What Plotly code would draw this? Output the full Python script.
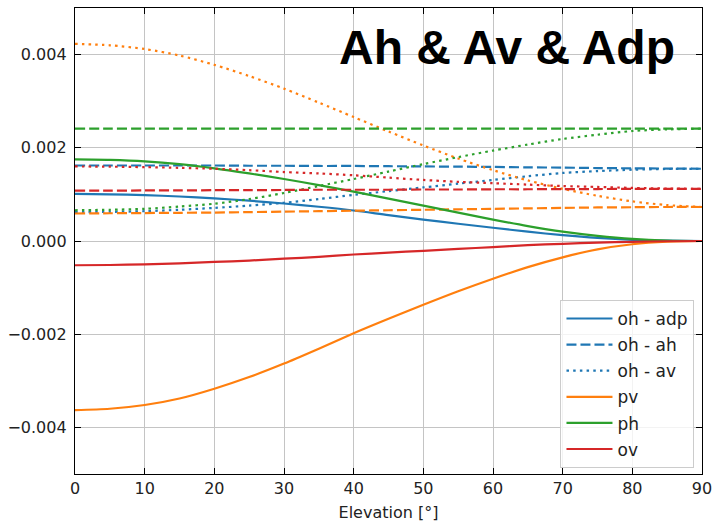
import plotly.graph_objects as go

elevation = [0, 5, 10, 15, 20, 25, 30, 35, 40, 45, 50, 55, 60, 65, 70, 75, 80, 85, 90]

oh_adp = [0.00101, 0.00100, 0.000985, 0.000955, 0.000915, 0.000865, 0.000805, 0.000735, 0.000655, 0.000555,
          0.00046, 0.00037, 0.000285, 0.00020, 0.000125, 0.000065, 0.000025, 0.000006, 0.0]
oh_ah = [0.00162, 0.00162, 0.00162, 0.00162, 0.00162, 0.001615, 0.001615, 0.00161, 0.00161, 0.001605,
         0.00160, 0.001595, 0.00159, 0.00158, 0.001575, 0.001565, 0.00156, 0.001555, 0.00155]
oh_av = [0.00062, 0.000625, 0.00064, 0.00067, 0.00071, 0.00076, 0.00082, 0.00090, 0.00099, 0.00107,
         0.00115, 0.00123, 0.00131, 0.00139, 0.00146, 0.00150, 0.00153, 0.001545, 0.00155]

pv_adp = [-0.00363, -0.00360, -0.00352, -0.00338, -0.00317, -0.00292, -0.00263, -0.00231, -0.00198, -0.00167,
          -0.00137, -0.00108, -0.00081, -0.00056, -0.00035, -0.00018, -0.00007, -0.000015, 0.0]
pv_ah = [0.00059, 0.000595, 0.00060, 0.000605, 0.00061, 0.00062, 0.00063, 0.00064, 0.00065, 0.00066,
         0.00067, 0.00068, 0.00069, 0.00070, 0.00071, 0.00072, 0.000725, 0.00073, 0.00073]
pv_av = [0.00423, 0.00420, 0.00412, 0.00398, 0.00378, 0.00354, 0.00327, 0.00297, 0.00266, 0.00235,
         0.00205, 0.00177, 0.00152, 0.00130, 0.00112, 0.00097, 0.00085, 0.00077, 0.00073]

ph_adp = [0.00175, 0.00174, 0.00171, 0.00165, 0.00156, 0.00145, 0.00133, 0.00120, 0.00106, 0.00091,
          0.00076, 0.00061, 0.00046, 0.00032, 0.00020, 0.00011, 0.000045, 0.00001, 0.0]
ph_ah = [0.00241] * 19
ph_av = [0.00066, 0.00067, 0.00069, 0.00074, 0.00080, 0.00090, 0.00103, 0.00118, 0.00133, 0.00149,
         0.00165, 0.00180, 0.00194, 0.00207, 0.00219, 0.00228, 0.00236, 0.002395, 0.00241]

ov_adp = [-0.00052, -0.000515, -0.00050, -0.00048, -0.00045, -0.00042, -0.00038, -0.00034, -0.00029, -0.00025,
          -0.00021, -0.00017, -0.00013, -0.00009, -0.00006, -0.000035, -0.000017, -0.000005, 0.0]
ov_ah = [0.00108, 0.00108, 0.001085, 0.001085, 0.00109, 0.00109, 0.001095, 0.00110, 0.00110, 0.00110,
         0.001105, 0.001105, 0.00111, 0.00111, 0.001115, 0.001115, 0.00112, 0.00112, 0.00112]
ov_av = [0.00160, 0.001595, 0.001585, 0.00157, 0.00155, 0.00152, 0.00148, 0.00145, 0.00141, 0.00136,
         0.00131, 0.00127, 0.00124, 0.00121, 0.00118, 0.00116, 0.00114, 0.001125, 0.00112]

yticks = [-0.004, -0.002, 0.0, 0.002, 0.004]
xticks = [0, 10, 20, 30, 40, 50, 60, 70, 80, 90]

BLUE, ORANGE, GREEN, RED = "#1f77b4", "#ff7f0e", "#2ca02c", "#d62728"
DASH = "10px,4px"
DOT = "2.5px,4.2px"
LW = 2.2

series = [
    ("oh - adp", oh_adp, BLUE, "solid", True),
    ("oh - ah", oh_ah, BLUE, DASH, True),
    ("oh - av", oh_av, BLUE, DOT, True),
    ("pv", pv_adp, ORANGE, "solid", True),
    ("pv - ah", pv_ah, ORANGE, DASH, False),
    ("pv - av", pv_av, ORANGE, DOT, False),
    ("ph", ph_adp, GREEN, "solid", True),
    ("ph - ah", ph_ah, GREEN, DASH, False),
    ("ph - av", ph_av, GREEN, DOT, False),
    ("ov", ov_adp, RED, "solid", True),
    ("ov - ah", ov_ah, RED, DASH, False),
    ("ov - av", ov_av, RED, DOT, False),
]

fig = go.Figure()
for i, (name, vals, color, dash, show) in enumerate(series):
    fig.add_trace(go.Scatter(
        x=elevation, y=vals, mode="lines", name=name,
        line=dict(color=color, dash=dash, width=LW, shape="spline", smoothing=0.8),
        showlegend=show, legendgroup=f"g{i}",
    ))

axis_common = dict(
    showline=True, linecolor="black", linewidth=1.3, mirror="allticks",
    ticks="inside", ticklen=6, tickwidth=1.3, tickcolor="black",
    showgrid=True, gridcolor="#c4c4c4", gridwidth=1.2, zeroline=False,
    tickfont=dict(family="DejaVu Sans", size=16, color="#222222"),
    ticklabeloverflow="allow", automargin=False,
)

fig.update_xaxes(range=[0, 90], tickvals=xticks, **axis_common,
                 title=dict(text="Elevation [°]", standoff=9,
                            font=dict(family="DejaVu Sans", size=16, color="#222222")))
fig.update_yaxes(range=[-0.005, 0.005], tickvals=yticks, tickformat=".3f",
                 ticklabelstandoff=4, **axis_common)

fig.add_annotation(
    text="<b>Ah & Av & Adp</b>", xref="paper", yref="paper",
    x=0.960, y=0.916, xanchor="right", yanchor="middle", showarrow=False,
    font=dict(family="Liberation Sans, Arial", size=48, color="black"),
)

fig.update_layout(
    width=712, height=523,
    margin=dict(l=75, r=10, t=8, b=49),
    plot_bgcolor="white", paper_bgcolor="white",
    legend=dict(
        x=0.988, y=0.013, xanchor="right", yanchor="bottom",
        bgcolor="rgba(255,255,255,0.8)", bordercolor="#cccccc", borderwidth=1,
        font=dict(family="DejaVu Sans", size=17, color="#222222"),
        tracegroupgap=1, traceorder="grouped", itemwidth=46,
    ),
)

fig.write_html("out.html")
